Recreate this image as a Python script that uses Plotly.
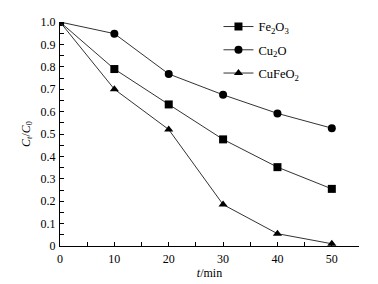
import plotly.graph_objects as go

time_min = [0, 10, 20, 30, 40, 50]
fe2o3 = [1.0, 0.79, 0.632, 0.476, 0.352, 0.255]
cu2o = [1.0, 0.948, 0.768, 0.675, 0.592, 0.526]
cufeo2 = [1.0, 0.70, 0.52, 0.185, 0.055, 0.01]

series = [
    ("Fe<sub>2</sub>O<sub>3</sub>", fe2o3, "square"),
    ("Cu<sub>2</sub>O", cu2o, "circle"),
    ("CuFeO<sub>2</sub>", cufeo2, "triangle-up"),
]

y_ticks = [0, 0.1, 0.2, 0.3, 0.4, 0.5, 0.6, 0.7, 0.8, 0.9, 1.0]
y_ticktext = ["0", "0.1", "0.2", "0.3", "0.4", "0.5", "0.6", "0.7", "0.8", "0.9", "1.0"]
x_ticks = [0, 10, 20, 30, 40, 50]

fig = go.Figure()
for i, (name, vals, sym) in enumerate(series):
    fig.add_trace(go.Scatter(
        x=time_min, y=vals, name=name, mode="lines+markers",
        legendgroup=f"g{i}",
        line=dict(color="#333333", width=1),
        marker=dict(symbol=sym, size=8, color="black"),
    ))

font_family = "Liberation Serif, Times New Roman, serif"
fig.update_layout(
    width=378, height=284,
    margin=dict(l=60, r=19, t=22, b=38, autoexpand=False),
    paper_bgcolor="white", plot_bgcolor="white",
    font=dict(family=font_family, size=12, color="black"),
    showlegend=True,
    legend=dict(x=0.53, y=1.045, xanchor="left", yanchor="top",
                bgcolor="rgba(0,0,0,0)", font=dict(size=12.5, family=font_family),
                itemwidth=30, tracegroupgap=4),
    xaxis=dict(range=[0, 55], tickvals=x_ticks, ticks="inside", ticklen=4,
               showline=True, linecolor="black", linewidth=1, showgrid=False,
               zeroline=False, tickcolor="black", ticklabelstandoff=2,
               automargin=False,
               minor=dict(ticks="inside", dtick=5, ticklen=4, tickcolor="black"),
               title=dict(text="<i>t</i>/min", standoff=0, font=dict(size=12))),
    yaxis=dict(range=[0, 1.0], tickvals=y_ticks, ticktext=y_ticktext, ticks="inside",
               ticklen=4, showline=True, linecolor="black", linewidth=1,
               showgrid=False, zeroline=False, tickcolor="black",
               automargin=False, ticklabelstandoff=1,
               minor=dict(ticks="inside", dtick=0.05, ticklen=4, tickcolor="black"),
               title=dict(text="<i>C</i><sub><i>t</i></sub>/<i>C</i><sub>0</sub>", standoff=7,
                          font=dict(size=12))),
)
fig.write_html("out.html", config={"displayModeBar": False},
               post_script="document.body.style.margin='0';")
